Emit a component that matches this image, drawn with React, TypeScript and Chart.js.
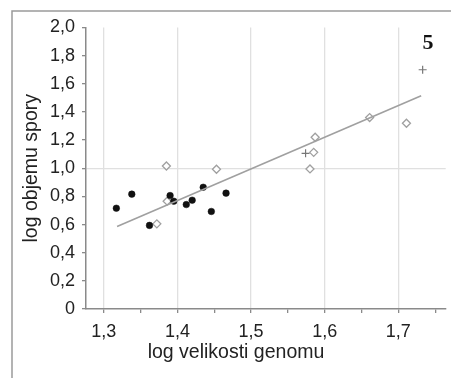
import React, { useEffect, useRef } from "react";
import { Chart, registerables } from "chart.js";

Chart.register(...registerables);

const xTicks = [1.3, 1.35, 1.4, 1.45, 1.5, 1.55, 1.6, 1.65, 1.7, 1.75];
const yTicks = [0, 0.2, 0.4, 0.6, 0.8, 1.0, 1.2, 1.4, 1.6, 1.8, 2.0];

const blackX = [1.317, 1.338, 1.362, 1.39, 1.395, 1.412, 1.42, 1.435, 1.446, 1.466];
const blackY = [0.716, 0.816, 0.594, 0.806, 0.766, 0.742, 0.773, 0.865, 0.693, 0.823];

const diamondX = [1.385, 1.453, 1.386, 1.372, 1.587, 1.585, 1.58, 1.661, 1.711];
const diamondY = [1.016, 0.993, 0.766, 0.605, 1.22, 1.113, 0.995, 1.36, 1.32];

const plusX = [1.574, 1.733];
const plusY = [1.106, 1.7];

const trendX = [1.318, 1.731];
const trendY = [0.586, 1.515];

const xTitle = "log velikosti genomu";
const yTitle = "log objemu spory";
const panelLabel = "5";

const pts = (xs: number[], ys: number[]) => xs.map((x, i) => ({ x, y: ys[i] }));
const fmt = (v: number) => (v === 0 ? "0" : v.toFixed(1).replace(".", ","));
const isMajorX = (v: number) => Math.abs(v * 10 - Math.round(v * 10)) < 1e-6;

const FONT = "'Liberation Sans', Arial, sans-serif";

export default function App() {
  const ref = useRef<HTMLCanvasElement>(null);
  useEffect(() => {
    if (!ref.current) return;
    const decor = {
      id: "decor",
      afterDraw(chart: any) {
        const ctx = chart.ctx;
        ctx.save();
        ctx.strokeStyle = "#9a9a9a";
        ctx.lineWidth = 1.5;
        ctx.beginPath();
        ctx.moveTo(12, 378);
        ctx.lineTo(12, 11);
        ctx.lineTo(451, 11);
        ctx.stroke();
        ctx.fillStyle = "#222";
        ctx.font = `19.5px ${FONT}`;
        ctx.textAlign = "center";
        ctx.textBaseline = "middle";
        ctx.fillText(xTitle, 236, 353);
        ctx.fillStyle = "#111";
        ctx.font = "bold 22px 'Liberation Serif', serif";
        ctx.fillText(panelLabel, 428, 43);
        ctx.restore();
      },
    };
    const chart = new Chart(ref.current, {
      type: "scatter",
      data: {
        datasets: [
          {
            type: "line",
            data: pts(trendX, trendY),
            borderColor: "#a0a0a0",
            borderWidth: 1.6,
            pointRadius: 0,
            fill: false,
          } as any,
          {
            data: pts(blackX, blackY),
            backgroundColor: "#111",
            borderColor: "#111",
            borderWidth: 0.5,
            pointRadius: 3.3,
            pointStyle: "circle",
          },
          {
            data: pts(diamondX, diamondY),
            backgroundColor: "#fff",
            borderColor: "#a0a0a0",
            borderWidth: 1.3,
            pointRadius: 4,
            pointStyle: "rectRot",
          },
          {
            data: pts(plusX, plusY),
            backgroundColor: "#777",
            borderColor: "#777",
            borderWidth: 1.2,
            pointRadius: 4,
            pointStyle: "cross",
          },
        ],
      },
      options: {
        responsive: false,
        animation: false,
        devicePixelRatio: 1,
        layout: { padding: { top: 27.5, right: 2, left: 0, bottom: 0 } },
        plugins: { legend: { display: false }, tooltip: { enabled: false } },
        scales: {
          x: {
            type: "linear",
            min: 1.2758,
            max: 1.7643,
            afterBuildTicks: (s: any) => {
              s.ticks = xTicks.map((v) => ({ value: v }));
            },
            afterFit: (s: any) => {
              s.height = 69;
            },
            border: { display: true, color: "#8a8a8a", width: 1.5 },
            grid: {
              color: (c: any) => (c.tick && isMajorX(c.tick.value) ? "#e0e0e0" : "rgba(0,0,0,0)"),
              tickColor: "#8a8a8a",
              tickLength: 4,
              lineWidth: 1.3,
            },
            ticks: {
              autoSkip: false,
              maxRotation: 0,
              padding: 8,
              color: "#222",
              font: { family: FONT, size: 18 },
              callback: (v: any) => (isMajorX(Number(v)) ? fmt(Number(v)) : ""),
            },
          },
          y: {
            type: "linear",
            min: 0,
            max: 2.0,
            afterBuildTicks: (s: any) => {
              s.ticks = yTicks.map((v) => ({ value: v }));
            },
            afterFit: (s: any) => {
              s.width = 86;
            },
            border: { display: true, color: "#8a8a8a", width: 1.5 },
            grid: {
              color: (c: any) => (c.tick && Math.abs(c.tick.value - 1) < 1e-6 ? "#e0e0e0" : "rgba(0,0,0,0)"),
              tickColor: "#8a8a8a",
              tickLength: 4,
              lineWidth: 1.3,
            },
            ticks: {
              padding: 7,
              color: "#222",
              font: { family: FONT, size: 18 },
              callback: (v: any) => fmt(Number(v)),
            },
            title: {
              display: true,
              text: yTitle,
              color: "#222",
              font: { family: FONT, size: 19.5 },
              padding: { top: 20, bottom: 0 },
            },
          },
        },
      },
      plugins: [decor],
    } as any);
    return () => chart.destroy();
  }, []);
  return (
    <div style={{ position: "fixed", left: 0, top: 0, width: 451, height: 378, background: "#fff" }}>
      <canvas ref={ref} width={451} height={378} />
    </div>
  );
}
